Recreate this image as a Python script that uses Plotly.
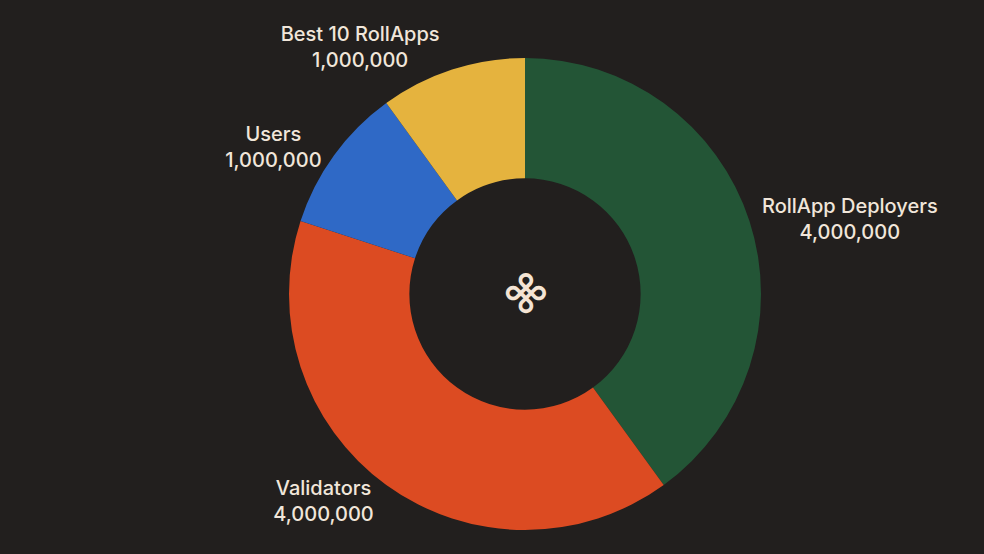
import plotly.graph_objects as go

labels = ["RollApp Deployers", "Validators", "Users", "Best 10 RollApps"]
values = [4000000, 4000000, 1000000, 1000000]
colors = ["#235536", "#dc4b22", "#2f69c6", "#e5b33e"]

W, H = 984, 554
cx, cy, R = 525, 294, 236
bg = "#221f1e"
txt = "#f1e6da"

fig = go.Figure(go.Pie(
    labels=labels,
    values=values,
    hole=0.49,
    sort=False,
    direction="clockwise",
    rotation=0,
    marker=dict(colors=colors, line=dict(width=0)),
    texttemplate="%{label}<br>%{value:,}",
    textposition="outside",
    outsidetextfont=dict(color=txt, size=20, family="Inter", weight=500),
    showlegend=False,
    domain=dict(x=[(cx - R) / W, (cx + R) / W], y=[0, 1]),
))

fig.add_annotation(
    x=cx / W, y=1 - (cy - 58) / (H - 58 - 24), xref="paper", yref="paper",
    text="⌘", showarrow=False, textangle=45,
    font=dict(size=43, color="#f4e4d4", family="DejaVu Sans", weight="bold"),
)

fig.update_layout(
    width=W, height=H,
    margin=dict(l=0, r=0, t=58, b=24),
    paper_bgcolor=bg, plot_bgcolor=bg,
    font=dict(family="Inter", color=txt),
)

fig.write_html(
    "out.html",
    config={"displayModeBar": False},
    post_script="document.body.style.margin='0';document.body.style.background='#221f1e';",
)
